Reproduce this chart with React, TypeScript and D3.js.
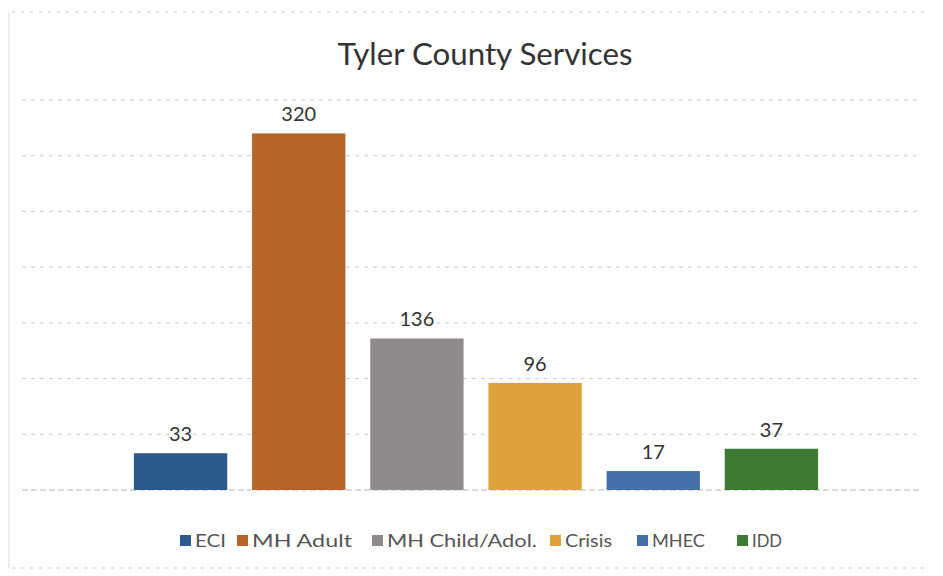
import * as d3 from "d3";
import React, { useEffect, useRef } from 'react'

const categories = ["ECI", "MH Adult", "MH Child/Adol.", "Crisis", "MHEC", "IDD"]
const values = [33, 320, 136, 96, 17, 37]
const colors = ["#2d5a8e", "#b5642a", "#8f8b8d", "#dea23c", "#4571a8", "#3e7a33"]
const gridTicks = [0, 50, 100, 150, 200, 250, 300, 350]
const title = "Tyler County Services"

const W = 943
const H = 576
const FONT = "Lato, 'Open Sans', sans-serif"

const drawChart = (el: SVGSVGElement) => {
  const svg = d3.select(el)
  svg.selectAll("*").remove()

  const xScale = d3.scaleBand<string>()
    .domain(categories)
    .range([115, 837])
    .paddingInner(0.21)
    .paddingOuter(0.16)
  const yScale = d3.scaleLinear()
    .domain([0, 350])
    .range([490, 100])

  // faint scan border
  svg.append("line").attr("x1", 12).attr("x2", 930).attr("y1", 12).attr("y2", 12)
    .attr("stroke", "#ccc").attr("stroke-dasharray", "3,6")
  svg.append("line").attr("x1", 12).attr("x2", 930).attr("y1", 568).attr("y2", 568)
    .attr("stroke", "#ccc").attr("stroke-dasharray", "3,6")
  svg.append("line").attr("x1", 9).attr("x2", 9).attr("y1", 12).attr("y2", 568)
    .attr("stroke", "#ddd")

  svg.append("text")
    .attr("x", 485).attr("y", 65)
    .attr("text-anchor", "middle")
    .style("font-family", FONT).style("font-size", "30px").style("fill", "#333")
    .attr("textLength", 295).attr("lengthAdjust", "spacingAndGlyphs")
    .text(title)

  svg.append("g").selectAll("line")
    .data(gridTicks)
    .enter().append("line")
    .attr("x1", 22).attr("x2", 922)
    .attr("y1", (d) => yScale(d)).attr("y2", (d) => yScale(d))
    .attr("stroke", (d) => d === 0 ? "#b5b5b5" : "#cccccc")
    .attr("stroke-dasharray", (d) => d === 0 ? "6,3" : "4,5")

  const bars = svg.append("g").selectAll("g")
    .data(categories)
    .enter().append("g")

  bars.append("rect")
    .attr("x", (d) => xScale(d)!)
    .attr("width", xScale.bandwidth())
    .attr("y", (_d, i) => yScale(values[i]))
    .attr("height", (_d, i) => yScale(0) - yScale(values[i]))
    .attr("fill", (_d, i) => colors[i])

  bars.append("text")
    .attr("x", (d) => xScale(d)! + xScale.bandwidth() / 2)
    .attr("y", (_d, i) => yScale(values[i]) - 12)
    .attr("text-anchor", "middle")
    .style("font-family", FONT).style("font-size", "20px").style("fill", "#333")
    .text((_d, i) => values[i])

  // legend
  const legendX = [180, 237, 372, 550, 637, 737]
  const legendW = [31, 100, 150, 47, 53, 30]
  const legend = svg.append("g").selectAll("g")
    .data(categories)
    .enter().append("g")
    .attr("transform", (_d, i) => "translate(" + legendX[i] + ",541)")
  legend.append("rect")
    .attr("x", 0).attr("y", -6).attr("width", 11).attr("height", 11)
    .attr("fill", (_d, i) => colors[i])
  legend.append("text")
    .attr("x", 15).attr("y", 6)
    .attr("textLength", (_d, i) => legendW[i]).attr("lengthAdjust", "spacingAndGlyphs")
    .style("font-family", FONT).style("font-size", "18px").style("fill", "#555")
    .text((d) => d)
}

export default function App() {
  const ref = useRef<SVGSVGElement>(null)
  useEffect(() => {
    if (ref.current) drawChart(ref.current)
  })
  return (
    <svg ref={ref} width={W} height={H}
      style={{ position: "absolute", left: 0, top: 0, background: "#fff" }} />
  )
}
